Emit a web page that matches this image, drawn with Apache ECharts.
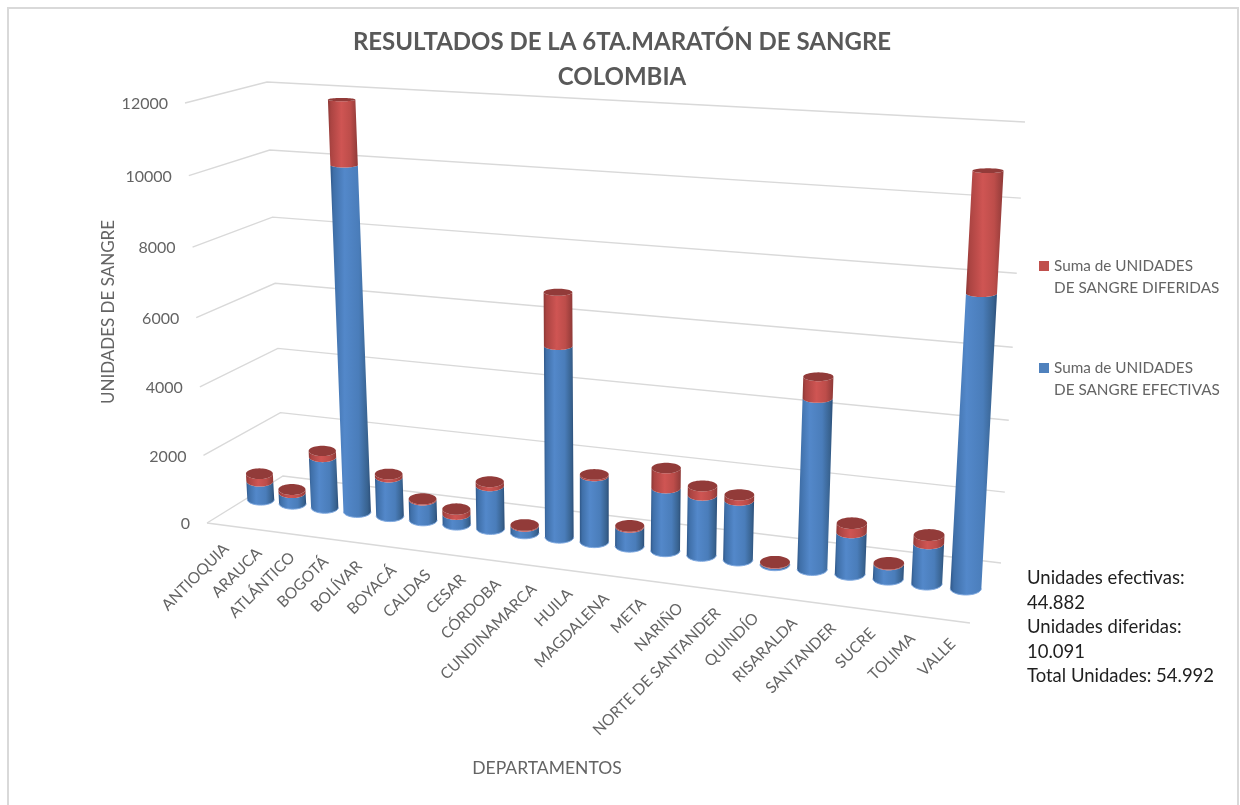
<!DOCTYPE html>
<html>
<head>
<meta charset="utf-8">
<title>Maratón de Sangre</title>
<script src="https://cdn.jsdelivr.net/npm/echarts@6/dist/echarts.min.js"></script>
<style>
  html, body { margin: 0; padding: 0; background: #fff; }
  #chart { width: 1240px; height: 805px; }
</style>
</head>
<body>
<div id="chart"></div>
<script>
const departamentos = ['ANTIOQUIA', 'ARAUCA', 'ATLÁNTICO', 'BOGOTÁ', 'BOLÍVAR', 'BOYACÁ', 'CALDAS', 'CESAR', 'CÓRDOBA',
  'CUNDINAMARCA', 'HUILA', 'MAGDALENA', 'META', 'NARIÑO', 'NORTE DE SANTANDER', 'QUINDÍO', 'RISARALDA', 'SANTANDER',
  'SUCRE', 'TOLIMA', 'VALLE'];
const efectivas = [562, 335, 1530, 10100, 1160, 600, 300, 1260, 205, 5490, 1900, 555, 1792, 1708, 1685, 50, 4728, 1160, 410, 1112, 7888];
const diferidas = [227, 92, 180, 1830, 90, 30, 150, 116, 25, 1500, 40, 30, 563, 259, 152, 15, 583, 251, 20, 223, 3154];
const yTicks = [0, 2000, 4000, 6000, 8000, 10000, 12000];
const nombreEfectivas = 'Suma de UNIDADES\nDE SANGRE EFECTIVAS';
const nombreDiferidas = 'Suma de UNIDADES\nDE SANGRE DIFERIDAS';
const resumen = 'Unidades efectivas:\n44.882\nUnidades diferidas:\n10.091\nTotal Unidades: 54.992';

const FONT = 'Lato, "Open Sans", sans-serif';
const TXT = '#646464';

// grid oculto: da las escalas, luego se proyecta a la caja en perspectiva
const gridBox = { left: 100, top: 100, width: 840, height: 600 };
const corners = {
  fl0: [207, 523], fl1: [185, 103], bl0: [283, 476], bl1: [267, 82],
  br0: [1001, 563], br1: [1025, 122], fr0: [970, 623], fr1: [997, 150]
};
const lerp = (a, b, t) => [a[0] + (b[0] - a[0]) * t, a[1] + (b[1] - a[1]) * t];

// pasa un punto del grid (pixeles) a la caja, d = profundidad 0 frente, 1 fondo
function project(p, d) {
  const u0 = (p[0] - gridBox.left) / gridBox.width;
  const v0 = (gridBox.top + gridBox.height - p[1]) / gridBox.height;
  const u = u0 / (1.12 - 0.12 * u0);
  const v = v0 / (1.044 - 0.044 * v0);
  const c = corners;
  const f0 = lerp(c.fl0, c.fr0, u), f1 = lerp(c.fl1, c.fr1, u);
  const b0 = lerp(c.bl0, c.br0, u), b1 = lerp(c.bl1, c.br1, u);
  const pt = lerp(lerp(f0, f1, v), lerp(b0, b1, v), d);
  pt.u = u;
  pt.v = v;
  return pt;
}
const ryAt = y => 1.5 + 0.0098 * (y - 80);
const rxAt = u => 13.4 + 2.2 * u;

// medio arco inferior del cilindro, de izquierda a derecha
function frontArc(c, rx, ry, reverse) {
  const pts = [];
  for (let k = 0; k <= 24; k++) {
    const a = Math.PI - Math.PI * k / 24;
    pts.push([c[0] + rx * Math.cos(a), c[1] + ry * Math.sin(a)]);
  }
  return reverse ? pts.reverse() : pts;
}
function fullEllipse(c, rx, ry) {
  const pts = [];
  for (let k = 0; k < 48; k++) {
    const a = 2 * Math.PI * k / 48;
    pts.push([c[0] + rx * Math.cos(a), c[1] + ry * Math.sin(a)]);
  }
  return pts;
}
const grad = stops => new echarts.graphic.LinearGradient(0, 0, 1, 0, stops.map(s => ({ offset: s[0], color: s[1] })));
const blueFill = grad([[0, '#2f5788'], [0.08, '#3f6fa8'], [0.35, '#5388ca'], [0.7, '#4a7dba'], [0.92, '#38628f'], [1, '#2a4d78']]);
const redFill = grad([[0, '#8c3836'], [0.1, '#ab4442'], [0.45, '#cf5553'], [0.75, '#bd4d4a'], [1, '#8f3a38']]);

// punto sobre el plano medio donde estan los cilindros
function barPoint(p) {
  const pt = project(p, 0.5);
  pt[0] -= 4 * (1 - pt.u) * pt.v;
  pt[1] -= 2;
  return pt;
}

function cylinder(api, fill, isTop) {
  const i = api.value(0);
  const from = barPoint(api.coord([i, api.value(1)]));
  const to = barPoint(api.coord([i, api.value(2)]));
  const rx = rxAt(from.u);
  const ryA = ryAt(from[1]), ryB = ryAt(to[1]);
  const body = frontArc(from, rx, ryA).concat(frontArc(to, rx, ryB, true));
  const children = [{ type: 'polygon', shape: { points: body }, style: { fill: fill } }];
  if (isTop) {
    children.push({ type: 'polygon', shape: { points: fullEllipse(to, rx, ryB) }, style: { fill: '#923b39' } });
  } else {
    children.push({ type: 'polyline', shape: { points: frontArc(from, rx, ryA) }, style: { fill: 'none', stroke: '#7fa9e0', lineWidth: 1 } });
  }
  return { type: 'group', children: children };
}

const chart = echarts.init(document.getElementById('chart'));
chart.setOption({
  animation: false,
  backgroundColor: '#fff',
  title: {
    text: 'RESULTADOS DE LA 6TA.MARATÓN DE SANGRE\nCOLOMBIA',
    left: 617, top: 20, textAlign: 'center',
    textStyle: { fontFamily: FONT, fontSize: 24, fontWeight: 'bold', color: '#595959', lineHeight: 35 }
  },
  legend: {
    data: [nombreDiferidas, nombreEfectivas],
    orient: 'vertical', left: 1034, top: 228,
    icon: 'rect', itemWidth: 10, itemHeight: 10, itemGap: 36, itemStyle: { borderWidth: 0 },
    selectedMode: false,
    // linea vacia arriba para que el icono quede a la altura de la primera linea
    formatter: name => '\n' + name,
    textStyle: { fontFamily: FONT, fontSize: 15.3, color: TXT, lineHeight: 22 }
  },
  grid: gridBox,
  xAxis: { type: 'category', data: departamentos, show: false },
  yAxis: { type: 'value', min: 0, max: 12000, interval: 2000, show: false },
  graphic: [
    { type: 'polyline', silent: true, shape: { points: [[8, 805], [8, 8], [1238, 8], [1238, 805]] }, style: { fill: 'none', stroke: '#d9d9d9', lineWidth: 2 } },
    { type: 'text', x: 109, y: 312, rotation: Math.PI / 2, style: { text: 'UNIDADES DE SANGRE', fontFamily: FONT, fontSize: 17, fill: TXT, align: 'center', verticalAlign: 'middle' } },
    { type: 'text', x: 547, y: 768, style: { text: 'DEPARTAMENTOS', fontFamily: FONT, fontSize: 17.5, fill: TXT, align: 'center', verticalAlign: 'middle' } },
    { type: 'text', x: 1027, y: 566, style: { text: resumen, fontFamily: FONT, fontSize: 18.5, lineHeight: 24.5, fill: '#1f1f1f' } }
  ],
  series: [
    {
      // paredes y piso, con las etiquetas del eje de valores
      type: 'custom', name: 'rejilla', silent: true,
      data: yTicks.map(t => [0, t]),
      renderItem: (params, api) => {
        const t = api.value(1);
        const l = api.coord([0, t]);
        const left = [gridBox.left, l[1]], right = [gridBox.left + gridBox.width, l[1]];
        const fl = project(left, 0), bl = project(left, 1), br = project(right, 1);
        const line = { stroke: '#d9d9d9', lineWidth: 1.4, fill: 'none' };
        const children = [
          { type: 'polyline', shape: { points: [fl, bl, br] }, style: line },
          { type: 'text', x: fl[0] - 17, y: fl[1] + 1, style: { text: String(t), fontFamily: FONT, fontSize: 16, fill: TXT, align: 'right', verticalAlign: 'middle' } }
        ];
        if (t === 0) {
          children.push({ type: 'polyline', shape: { points: [fl, project(right, 0)] }, style: line });
        }
        return { type: 'group', children: children };
      }
    },
    {
      // etiquetas de departamentos
      type: 'custom', name: 'etiquetas', silent: true,
      data: departamentos.map((d, i) => [i, 0]),
      renderItem: (params, api) => {
        const i = api.value(0);
        const p = project(api.coord([i, 0]), 0);
        return { type: 'text', x: p[0] + 3, y: p[1] + 21, rotation: Math.PI / 4, style: { text: departamentos[i], fontFamily: FONT, fontSize: 15.6, fill: TXT, align: 'right', verticalAlign: 'middle' } };
      }
    },
    {
      type: 'custom', name: nombreEfectivas, itemStyle: { color: '#4f81bd' },
      data: efectivas.map((v, i) => [i, 0, v]),
      renderItem: (params, api) => cylinder(api, blueFill, false)
    },
    {
      type: 'custom', name: nombreDiferidas, itemStyle: { color: '#c0504d' },
      data: diferidas.map((v, i) => [i, efectivas[i], efectivas[i] + v]),
      renderItem: (params, api) => cylinder(api, redFill, true)
    }
  ]
});
</script>
</body>
</html>
